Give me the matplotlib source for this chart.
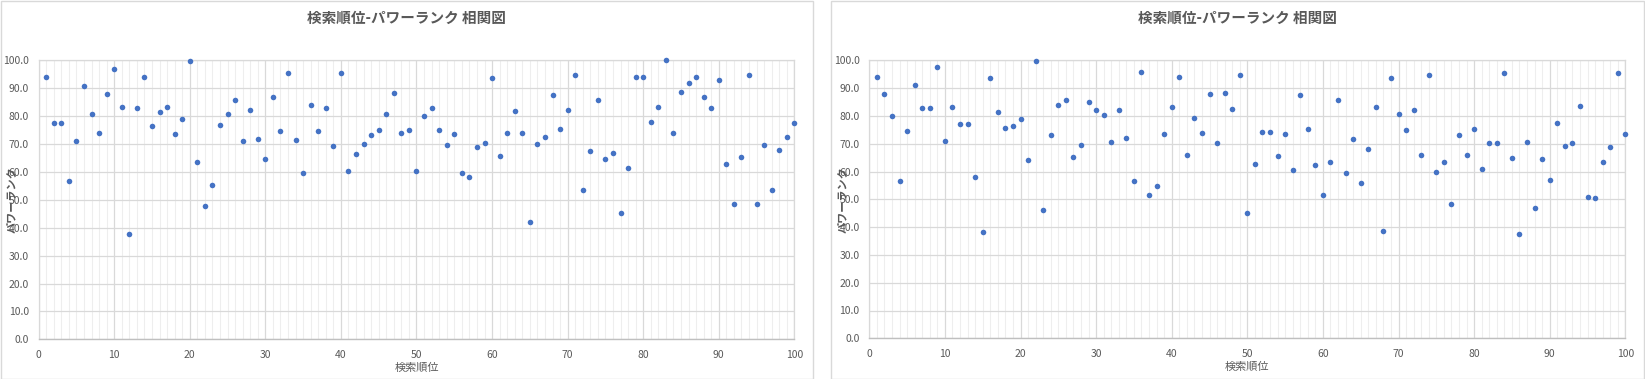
import matplotlib
matplotlib.use("Agg")
import matplotlib.pyplot as plt
from matplotlib.patches import Rectangle
from matplotlib.ticker import MultipleLocator, FormatStrFormatter

plt.rcParams['font.family'] = ['Noto Sans CJK JP', 'DejaVu Sans']

# data
rank = list(range(1, 101))

power_left = [
    93.9, 77.4, 77.4, 56.6, 71.0, 90.7, 80.6, 73.8, 87.8, 96.8,
    83.2, 37.6, 82.8, 93.9, 76.3, 81.4, 83.2, 73.5, 78.9, 99.6,
    63.4, 47.7, 55.2, 76.7, 80.6, 85.7, 71.0, 82.1, 71.7, 64.5,
    86.7, 74.6, 95.3, 71.3, 59.5, 83.9, 74.6, 82.8, 69.2, 95.3,
    60.2, 66.3, 69.9, 73.1, 74.9, 80.6, 88.2, 73.8, 74.9, 60.2,
    79.9, 82.8, 74.9, 69.5, 73.5, 59.5, 58.1, 68.8, 70.3, 93.5,
    65.6, 73.8, 81.7, 73.8, 41.9, 69.9, 72.4, 87.5, 75.3, 82.1,
    94.6, 53.4, 67.4, 85.7, 64.5, 66.7, 45.2, 61.3, 93.9, 93.9,
    77.8, 83.2, 100.0, 73.8, 88.5, 91.8, 93.9, 86.7, 82.8, 92.8,
    62.7, 48.4, 65.2, 94.6, 48.4, 69.5, 53.4, 67.7, 72.4, 77.4,
]

power_right = [
    93.9, 87.8, 79.9, 56.5, 74.5, 91.0, 82.7, 82.7, 97.5, 70.9,
    83.1, 77.0, 77.0, 57.9, 38.1, 93.5, 81.3, 75.5, 76.3, 78.8,
    64.0, 99.6, 46.0, 73.0, 83.8, 85.6, 65.1, 69.4, 84.9, 82.0,
    80.2, 70.5, 82.0, 71.9, 56.5, 95.7, 51.4, 54.7, 73.4, 83.1,
    93.9, 65.8, 79.1, 73.7, 87.8, 70.1, 88.1, 82.4, 94.6, 45.0,
    62.6, 74.1, 74.1, 65.5, 73.4, 60.4, 87.4, 75.2, 62.2, 51.4,
    63.3, 85.6, 59.4, 71.6, 55.8, 68.0, 83.1, 38.5, 93.5, 80.6,
    74.8, 82.0, 65.8, 94.6, 59.7, 63.3, 48.2, 73.0, 65.8, 75.2,
    60.8, 70.1, 70.1, 95.3, 64.7, 37.4, 70.5, 46.8, 64.4, 56.8,
    77.3, 69.1, 70.1, 83.5, 50.7, 50.4, 63.3, 68.7, 95.3, 73.4,
]

title = "検索順位-パワーランク 相関図"
xlabel = "検索順位"
ylabel = "パワーランク"

W, H = 1645, 379
fig = plt.figure(figsize=(W / 100, H / 100), dpi=100)

txt = "#595959"
dot = "#4472C4"

# (panel left px, panel right px, axes left px, axes right px, axes bottom px, ylabel x px)
panels = [
    (0.5, 813, 38.7, 794.3, 339.3, 11, power_left),
    (831, 1644, 869.3, 1625.3, 338.3, 842, power_right),
]

for pl, pr, al, ar, ab, ylx, vals in panels:
    fig.patches.append(Rectangle((pl / W, 0.5 / H), (pr - pl) / W, (H - 1.5) / H,
                                 transform=fig.transFigure, fill=False,
                                 edgecolor="#d9d9d9", linewidth=1))
    at = 60.3
    ax = fig.add_axes([al / W, (H - ab) / H, (ar - al) / W, (ab - at) / H])
    ax.set_xlim(0, 100)
    ax.set_ylim(0, 100)
    ax.xaxis.set_major_locator(MultipleLocator(10))
    ax.xaxis.set_minor_locator(MultipleLocator(1))
    ax.yaxis.set_major_locator(MultipleLocator(10))
    ax.yaxis.set_major_formatter(FormatStrFormatter("%.1f"))
    ax.grid(which="major", color="#d9d9d9", linewidth=0.9)
    ax.grid(which="minor", axis="x", color="#eeeeee", linewidth=0.8)
    ax.set_axisbelow(True)
    for s in ["top", "right", "left"]:
        ax.spines[s].set_color("#d9d9d9")
        ax.spines[s].set_linewidth(0.9)
    ax.spines["bottom"].set_color("#bfbfbf")
    ax.spines["bottom"].set_linewidth(1)
    ax.tick_params(which="both", length=0, labelsize=7.5, labelcolor=txt)
    ax.tick_params(axis="x", pad=8)
    ax.tick_params(axis="y", pad=7)

    ax.scatter(rank, vals, s=16, color=dot, zorder=3, clip_on=False, linewidths=0)

    ax.set_xlabel(xlabel, fontsize=8, color=txt, labelpad=2)
    ax.set_ylabel(ylabel, fontsize=8, color=txt, fontweight="bold",
                  va="center", ha="center")
    ax.yaxis.set_label_coords((ylx - al) / (ar - al), 0.5)

    fig.text((pl + pr) / 2 / W, 1 - 18 / H, title, ha="center", va="center",
             fontsize=10.5, fontweight="bold", color=txt)

fig.savefig("out.png", dpi=100)
